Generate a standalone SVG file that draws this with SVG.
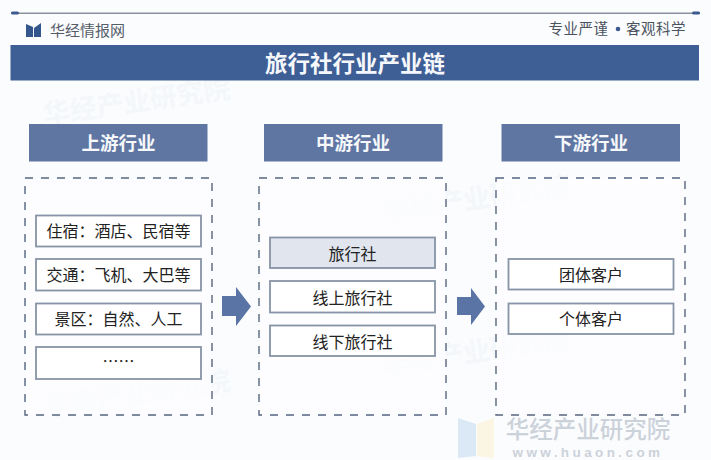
<svg xmlns="http://www.w3.org/2000/svg" width="711" height="460" viewBox="0 0 711 460">
<style>
text{font-family:"Noto Sans CJK SC","Liberation Sans",sans-serif;text-anchor:middle}
.hd{fill:#5f76a3}
.hdt{fill:#f6f8fb;font-size:18.500px;font-weight:700}
.dash{fill:#fdfeff;fill-opacity:.7;stroke:#566580;stroke-width:1.4;stroke-dasharray:8 8}
.box{fill:#fff;stroke:#8793a6;stroke-width:1.8}
.sel{fill:#e0e5ee;stroke:#8793a6;stroke-width:1.8}
.t{fill:#222;font-size:16px}
.wm{fill:#e9eef5;font-size:27px;font-weight:700;opacity:.35}
.arr{fill:#5a74a6}
</style>
<rect width="711" height="460" fill="#fbfcfe"/>
<g id="background-marks">
<text class="wm" x="138" y="111" transform="rotate(-8 138 111)">华经产业研究院</text>
<text class="wm" x="478" y="208" transform="rotate(-8 478 208)">华经产业研究院</text>
<text class="wm" x="138" y="403" transform="rotate(-8 138 403)">华经产业研究院</text>
<text class="wm" x="478" y="361" transform="rotate(-8 478 361)">华经产业研究院</text>
<path d="M458 418L476 424V456L458 458Z" fill="#dbe8f6"/>
<path d="M477 424L494 418V458L477 456Z" fill="#fbf5e3"/>
<text x="588" y="438" style="fill:#ccd2da;font-size:23.500px;font-weight:500">华经产业研究院</text>
<text x="588" y="457" style="fill:#ccd2da;font-size:13.500px;font-weight:700;letter-spacing:3.4px;font-family:'Liberation Sans',sans-serif">www.huaon.com</text>
</g>
<g id="header">
<rect x="11" y="12.500" width="689" height="1.500" fill="#8a919c"/>
<rect x="11" y="11.500" width="8" height="3" rx="1.500" fill="#3d5a8f"/>
<rect x="692" y="11.500" width="8" height="3" rx="1.500" fill="#3d5a8f"/>
<path d="M26 24L33 27V37L26 37Z" fill="#33568c"/>
<path d="M41 23V37L34 37V28Z" fill="#33568c"/>
<text x="87.500" y="36" style="fill:#555d69;font-size:15px">华经情报网</text>
<text x="578.500" y="34" style="fill:#4b5360;font-size:14.500px;letter-spacing:.5px">专业严谨</text>
<circle cx="618" cy="29" r="2.300" fill="#3d5a8f"/>
<text x="656" y="34" style="fill:#4b5360;font-size:14.500px;letter-spacing:.5px">客观科学</text>
</g>
<g id="title">
<rect x="10.500" y="45" width="688.500" height="35.500" fill="#3e5e96"/>
<text x="355" y="72" style="fill:#f5f7fb;font-size:22.500px;font-weight:700">旅行社行业产业链</text>
</g>
<g id="upstream">
<rect class="hd" x="29" y="124" width="178.500" height="37.500"/>
<text class="hdt" x="118.500" y="150">上游行业</text>
<rect class="dash" x="25" y="178" width="187" height="237"/>
<rect class="box" x="36" y="215.500" width="165" height="31"/><text class="t" x="118.500" y="237">住宿：酒店、民宿等</text>
<rect class="box" x="36" y="259" width="165" height="31.500"/><text class="t" x="118.500" y="281">交通：飞机、大巴等</text>
<rect class="box" x="36" y="303.500" width="165" height="31"/><text class="t" x="118.500" y="325">景区：自然、人工</text>
<rect class="box" x="36" y="347" width="165" height="32"/><text class="t" x="118.500" y="367">……</text>
</g>
<g id="midstream">
<rect class="hd" x="264" y="124" width="178.500" height="37.500"/>
<text class="hdt" x="353" y="150">中游行业</text>
<rect class="dash" x="259" y="178" width="187" height="237"/>
<rect class="sel" x="270" y="237.500" width="165" height="30.500"/><text class="t" x="352.500" y="260">旅行社</text>
<rect class="box" x="270" y="281" width="165" height="31.500"/><text class="t" x="352.500" y="304">线上旅行社</text>
<rect class="box" x="270" y="325.500" width="165" height="30.500"/><text class="t" x="352.500" y="348">线下旅行社</text>
</g>
<g id="downstream">
<rect class="hd" x="501.500" y="124" width="178.500" height="37.500"/>
<text class="hdt" x="591" y="150">下游行业</text>
<rect class="dash" x="496" y="178" width="189" height="237"/>
<rect class="box" x="508.500" y="259" width="165" height="30.500"/><text class="t" x="591" y="281">团体客户</text>
<rect class="box" x="508.500" y="303.500" width="165" height="30.500"/><text class="t" x="591" y="325">个体客户</text>
</g>
<g id="connectors">
<path class="arr" d="M222 296H236V287L251 306.500L236 326V316H222Z"/>
<path class="arr" d="M457 297H471V288L485 306.500L471 325V315H457Z"/>
</g>
</svg>
